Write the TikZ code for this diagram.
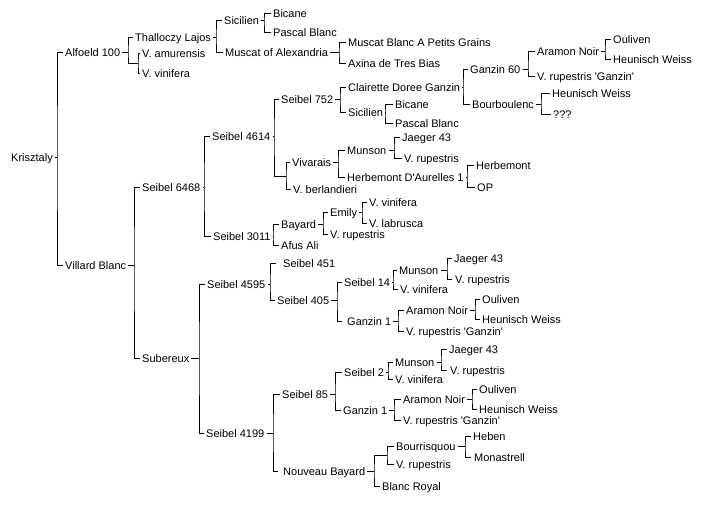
\documentclass[tikz,border=0pt]{standalone}
\usepackage{fontspec}
\setmainfont{Liberation Sans}
\tikzset{
  lbl/.style={anchor=west, inner sep=0pt, text height=8pt, text depth=0pt, font=\fontsize{11}{13}\selectfont},
  conn/.style={line width=1pt, black}
}
% #1 parent node, #2 x of the bracket, #3 and #4 child end points
\newcommand\brk[4]{%
  \coordinate (#1j) at (#1.east -| #2,0);
  \draw[conn] ([xshift=2pt]#1.east) -- (#1j);
  \draw[conn] (#3) -| (#1j) |- (#4);}
\newcommand\qs{\textquotesingle}
\begin{document}
\begin{tikzpicture}[x=1pt,y=-1pt]
\fill[white] (0,0) rectangle (702,504);
\useasboundingbox (0,0) rectangle (702,504);
% nodes
\node[lbl] (kri) at (11,157) {Krisztaly};
\node[lbl] (alf) at (65,52) {Alfoeld 100};
\node[lbl] (vb) at (65,265) {Villard Blanc};
\node[lbl] (thal) at (135,37) {Thalloczy Lajos};
\coordinate (amvi) at (138,63);
\node[lbl] (amur) at (142,53) {V. amurensis};
\node[lbl] (vvin1) at (142,73) {V. vinifera};
\node[lbl] (sic1) at (224,20) {Sicilien};
\node[lbl] (mus) at (225,52) {Muscat of Alexandria};
\node[lbl] (bic1) at (273,13) {Bicane};
\node[lbl] (pb1) at (273,32) {Pascal Blanc};
\node[lbl] (mbpg) at (348,42) {Muscat Blanc A Petits Grains};
\node[lbl] (axina) at (348,63) {Axina de Tres Bias};
\node[lbl] (s6468) at (142,187) {Seibel 6468};
\node[lbl] (sub) at (142,358) {Subereux};
\node[lbl] (s4614) at (212,136) {Seibel 4614};
\node[lbl] (s3011) at (213,236) {Seibel 3011};
\node[lbl] (s752) at (281,99) {Seibel 752};
\coordinate (j2) at (286,176);
\node[lbl] (viv) at (292,162) {Vivarais};
\node[lbl] (vber) at (293,189) {V. berlandieri};
\node[lbl] (cdg) at (348,87) {Clairette Doree Ganzin};
\node[lbl] (sic2) at (348,112) {Sicilien};
\node[lbl] (g60) at (470,69) {Ganzin 60};
\node[lbl] (bourb) at (472,104) {Bourboulenc};
\node[lbl] (an1) at (537,51) {Aramon Noir};
\node[lbl] (vrg1) at (537,76) {V. rupestris \qs Ganzin\qs};
\node[lbl] (oul1) at (613,39) {Ouliven};
\node[lbl] (hw1) at (613,59) {Heunisch Weiss};
\node[lbl] (hw2) at (552,93) {Heunisch Weiss};
\node[lbl] (qqq) at (553,114) {???};
\node[lbl] (bic2) at (395,104) {Bicane};
\node[lbl] (pb2) at (395,123) {Pascal Blanc};
\node[lbl] (mun1) at (347,150) {Munson};
\node[lbl] (hda) at (347,177) {Herbemont D\qs Aurelles 1};
\node[lbl] (jae1) at (402,137) {Jaeger 43};
\node[lbl] (vr1) at (404,158) {V. rupestris};
\node[lbl] (herb) at (476,165) {Herbemont};
\node[lbl] (op) at (477,187) {OP};
\node[lbl] (bay) at (281,224) {Bayard};
\node[lbl] (afus) at (281,245) {Afus Ali};
\node[lbl] (emily) at (330,212) {Emily};
\node[lbl] (vr2) at (330,234) {V. rupestris};
\node[lbl] (vv2) at (369,202) {V. vinifera};
\node[lbl] (vlab) at (369,223) {V. labrusca};
\node[lbl] (s4595) at (207,284) {Seibel 4595};
\node[lbl] (s4199) at (206,433) {Seibel 4199};
\node[lbl] (s451) at (283,263) {Seibel 451};
\node[lbl] (s405) at (277,300) {Seibel 405};
\node[lbl] (s14) at (344,282) {Seibel 14};
\node[lbl] (g1a) at (347,321) {Ganzin 1};
\node[lbl] (mun2) at (399,270) {Munson};
\node[lbl] (vv3) at (400,289) {V. vinifera};
\node[lbl] (jae2) at (454,258) {Jaeger 43};
\node[lbl] (vr3) at (455,279) {V. rupestris};
\node[lbl] (an2) at (406,310) {Aramon Noir};
\node[lbl] (vrg2) at (406,331) {V. rupestris \qs Ganzin\qs};
\node[lbl] (oul2) at (482,299) {Ouliven};
\node[lbl] (hw3) at (482,319) {Heunisch Weiss};
\node[lbl] (s85) at (282,394) {Seibel 85};
\node[lbl] (nb) at (283,471) {Nouveau Bayard};
\node[lbl] (s2) at (344,372) {Seibel 2};
\node[lbl] (g1b) at (343,410) {Ganzin 1};
\node[lbl] (mun3) at (395,362) {Munson};
\node[lbl] (vv4) at (395,379) {V. vinifera};
\node[lbl] (jae3) at (449,349) {Jaeger 43};
\node[lbl] (vr4) at (450,370) {V. rupestris};
\node[lbl] (an3) at (403,399) {Aramon Noir};
\node[lbl] (vrg3) at (403,420) {V. rupestris \qs Ganzin\qs};
\node[lbl] (oul3) at (479,389) {Ouliven};
\node[lbl] (hw4) at (479,409) {Heunisch Weiss};
\coordinate (j3) at (387,455);
\node[lbl] (br) at (382,486) {Blanc Royal};
\node[lbl] (bour) at (396,446) {Bourrisquou};
\node[lbl] (vr5) at (396,464) {V. rupestris};
\node[lbl] (heben) at (473,436) {Heben};
\node[lbl] (mon) at (474,457) {Monastrell};
% connectors
\brk{kri}{57}{[xshift=-2pt]alf.west}{[xshift=-2pt]vb.west}
\brk{alf}{128}{[xshift=-2pt]thal.west}{amvi}
\draw[conn] ([xshift=-2pt]amur.west) -| (amvi) |- ([xshift=-2pt]vvin1.west);
\brk{thal}{216}{[xshift=-2pt]sic1.west}{[xshift=-2pt]mus.west}
\brk{sic1}{264}{[xshift=-2pt]bic1.west}{[xshift=-2pt]pb1.west}
\brk{mus}{339}{[xshift=-2pt]mbpg.west}{[xshift=-2pt]axina.west}
\brk{vb}{134}{[xshift=-2pt]s6468.west}{[xshift=-2pt]sub.west}
\brk{s6468}{204}{[xshift=-2pt]s4614.west}{[xshift=-2pt]s3011.west}
\brk{s4614}{274}{[xshift=-2pt]s752.west}{j2}
\draw[conn] ([xshift=-2pt]viv.west) -| (j2) |- ([xshift=-2pt]vber.west);
\brk{s752}{340}{[xshift=-2pt]cdg.west}{[xshift=-2pt]sic2.west}
\brk{cdg}{463}{[xshift=-2pt]g60.west}{[xshift=-2pt]bourb.west}
\brk{g60}{528}{[xshift=-2pt]an1.west}{[xshift=-2pt]vrg1.west}
\brk{an1}{605}{[xshift=-2pt]oul1.west}{[xshift=-2pt]hw1.west}
\brk{bourb}{541}{[xshift=-2pt]hw2.west}{[xshift=-2pt]qqq.west}
\brk{sic2}{385}{[xshift=-2pt]bic2.west}{[xshift=-2pt]pb2.west}
\brk{viv}{338}{[xshift=-2pt]mun1.west}{[xshift=-2pt]hda.west}
\brk{mun1}{394}{[xshift=-2pt]jae1.west}{[xshift=-2pt]vr1.west}
\brk{hda}{467}{[xshift=-2pt]herb.west}{[xshift=-2pt]op.west}
\brk{s3011}{273}{[xshift=-2pt]bay.west}{[xshift=-2pt]afus.west}
\brk{bay}{323}{[xshift=-2pt]emily.west}{[xshift=-2pt]vr2.west}
\brk{emily}{362}{[xshift=-2pt]vv2.west}{[xshift=-2pt]vlab.west}
\brk{sub}{199}{[xshift=-2pt]s4595.west}{[xshift=-2pt]s4199.west}
\brk{s4595}{270}{[xshift=-7pt]s451.west}{[xshift=-2pt]s405.west}
\brk{s405}{337}{[xshift=-2pt]s14.west}{[xshift=-5pt]g1a.west}
\brk{s14}{393}{[xshift=-2pt]mun2.west}{[xshift=-2pt]vv3.west}
\brk{mun2}{447}{[xshift=-2pt]jae2.west}{[xshift=-3pt]vr3.west}
\brk{g1a}{398}{[xshift=-2pt]an2.west}{[xshift=-2pt]vrg2.west}
\brk{an2}{475}{[xshift=-2pt]oul2.west}{[xshift=-2pt]hw3.west}
\brk{s4199}{273}{[xshift=-2pt]s85.west}{[xshift=-5pt]nb.west}
\brk{s85}{335}{[xshift=-2pt]s2.west}{[xshift=-2pt]g1b.west}
\brk{s2}{388}{[xshift=-2pt]mun3.west}{[xshift=-2pt]vv4.west}
\brk{mun3}{441}{[xshift=-2pt]jae3.west}{[xshift=-3pt]vr4.west}
\brk{g1b}{394}{[xshift=-2pt]an3.west}{[xshift=-2pt]vrg3.west}
\brk{an3}{472}{[xshift=-2pt]oul3.west}{[xshift=-2pt]hw4.west}
\brk{nb}{374}{j3}{[xshift=-2pt]br.west}
\draw[conn] ([xshift=-2pt]bour.west) -| (j3) |- ([xshift=-2pt]vr5.west);
\brk{bour}{465}{[xshift=-2pt]heben.west}{[xshift=-3pt]mon.west}
\end{tikzpicture}
\end{document}
